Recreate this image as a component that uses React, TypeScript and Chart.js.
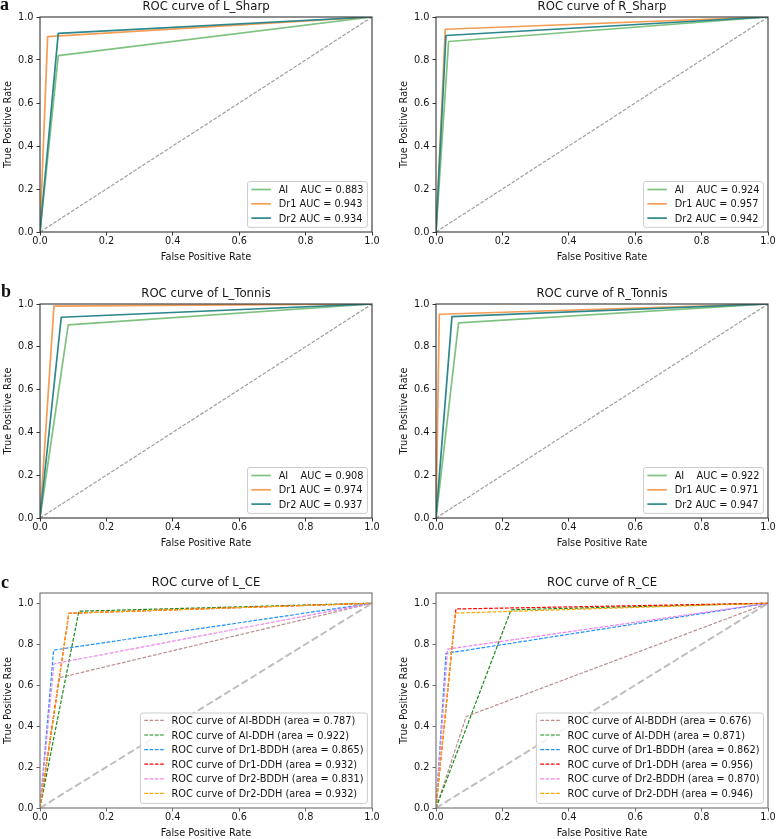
import React, { useEffect, useRef } from "react";
import { Chart, registerables } from "chart.js";

Chart.register(...registerables);

const FONT = '"DejaVu Sans", sans-serif';
const TEXT_COLOR = "#151515";

// ---- shared axis ticks ----
const AXIS_TICKS = [0, 0.2, 0.4, 0.6, 0.8, 1.0];
const DIAGONAL_X = [0, 1];
const DIAGONAL_Y = [0, 1];

// ---- panels a / b : three readers ----
const READER_NAMES = ["AI", "Dr1", "Dr2"];
const READER_COLORS = ["#7fc27f", "#f59c55", "#2e878c"];

const L_SHARP_FPR = [[0, 0.055, 1], [0, 0.023, 1], [0, 0.055, 1]];
const L_SHARP_TPR = [[0, 0.82, 1], [0, 0.909, 1], [0, 0.924, 1]];
const L_SHARP_AUC = [0.883, 0.943, 0.934];

const R_SHARP_FPR = [[0, 0.038, 1], [0, 0.028, 1], [0, 0.03, 1]];
const R_SHARP_TPR = [[0, 0.886, 1], [0, 0.943, 1], [0, 0.914, 1]];
const R_SHARP_AUC = [0.924, 0.957, 0.942];

const L_TONNIS_FPR = [[0, 0.085, 1], [0, 0.042, 1], [0, 0.064, 1]];
const L_TONNIS_TPR = [[0, 0.902, 1], [0, 0.99, 1], [0, 0.938, 1]];
const L_TONNIS_AUC = [0.908, 0.974, 0.937];

const R_TONNIS_FPR = [[0, 0.068, 1], [0, 0.01, 1], [0, 0.048, 1]];
const R_TONNIS_TPR = [[0, 0.912, 1], [0, 0.952, 1], [0, 0.941, 1]];
const R_TONNIS_AUC = [0.922, 0.971, 0.947];

// ---- panel c : six curves ----
const CE_NAMES = ["AI-BDDH", "AI-DDH", "Dr1-BDDH", "Dr1-DDH", "Dr2-BDDH", "Dr2-DDH"];
const CE_COLORS = ["#bc8f8f", "#1a8c1a", "#1e90ff", "#ff0000", "#ee82ee", "#ffa500"];

const L_CE_FPR = [[0, 0.058, 1], [0, 0.117, 1], [0, 0.041, 1], [0, 0.087, 1], [0, 0.042, 1], [0, 0.087, 1]];
const L_CE_TPR = [[0, 0.636, 1], [0, 0.961, 1], [0, 0.771, 1], [0, 0.951, 1], [0, 0.704, 1], [0, 0.951, 1]];
const L_CE_AUC = [0.787, 0.922, 0.865, 0.932, 0.831, 0.932];

const R_CE_FPR = [[0, 0.091, 1], [0, 0.226, 1], [0, 0.03, 1], [0, 0.06, 1], [0, 0.035, 1], [0, 0.058, 1]];
const R_CE_TPR = [[0, 0.447, 1], [0, 0.968, 1], [0, 0.755, 1], [0, 0.972, 1], [0, 0.776, 1], [0, 0.952, 1]];
const R_CE_AUC = [0.676, 0.871, 0.862, 0.956, 0.87, 0.946];

const readerLabels = (aucs: number[]) =>
  READER_NAMES.map((n, i) => (n === "AI" ? "AI    " : n + " ") + "AUC = " + aucs[i].toFixed(3));
const ceLabels = (aucs: number[]) =>
  CE_NAMES.map((n, i) => "ROC curve of " + n + " (area = " + aucs[i].toFixed(3) + ")");

type PanelProps = {
  title: string;
  labels: string[];
  colors: string[];
  fprs: number[][];
  tprs: number[][];
  dashed: boolean;
  ymax: number;
  plotLeft: number;
  plotTop: number;
  plotH: number;
  frameColor: string;
  legendTopPad: number;
  legendGap: number;
  legendBotPad: number;
};

const Y_AXIS_W = 40;
const TITLE_H = 17;
const X_AXIS_H = 34;
const PLOT_W = 332;
const RIGHT_PAD = 9;

function RocPanel(p: PanelProps) {
  const ref = useRef<HTMLCanvasElement | null>(null);
  const W = Y_AXIS_W + PLOT_W + RIGHT_PAD;
  const H = TITLE_H + p.plotH + X_AXIS_H;

  useEffect(() => {
    const fs = 9.75;
    const lineW = p.dashed ? 1.2 : 1.7;
    const diagDash = p.dashed ? [7.2, 3.1] : [3.7, 1.6];
    const datasets: any[] = [
      {
        data: DIAGONAL_X.map((x, i) => ({ x, y: DIAGONAL_Y[i] })),
        showLine: true,
        borderColor: p.dashed ? "#bdbdbd" : "#9e9e9e",
        borderWidth: p.dashed ? 1.9 : 1.2,
        borderDash: diagDash,
        pointRadius: 0,
        fill: false,
        order: 100,
      },
      ...p.fprs.map((fpr, k) => ({
        data: fpr.map((x, i) => ({ x, y: p.tprs[k][i] })),
        showLine: true,
        borderColor: p.colors[k],
        borderWidth: lineW,
        borderDash: p.dashed ? [3.7, 1.6] : [],
        borderJoinStyle: "round",
        pointRadius: 0,
        fill: false,
        order: 50 - k,
      })),
    ];

    const framePlugin = {
      id: "frame",
      afterDatasetsDraw(chart: any) {
        const { ctx, chartArea: a } = chart;
        ctx.save();
        ctx.strokeStyle = p.frameColor;
        ctx.lineWidth = 1.1;
        ctx.strokeRect(a.left, a.top, a.right - a.left, a.bottom - a.top);
        ctx.restore();
      },
    };

    const legendPlugin = {
      id: "rocLegend",
      afterDraw(chart: any) {
        const { ctx, chartArea: a } = chart;
        ctx.save();
        ctx.font = `${fs}px ${FONT}`;
        const maxW = Math.max(...p.labels.map((l) => ctx.measureText(l).width));
        const bp = 3.9, hl = 19.5, hp = 7.8;
        const boxW = bp + hl + hp + maxW + bp;
        const n = p.labels.length;
        const boxH = p.legendTopPad + (n - 1) * p.legendGap + p.legendBotPad;
        const right = a.right - 4.6;
        const bottom = a.bottom - 4.6;
        const left = right - boxW;
        const top = bottom - boxH;
        ctx.beginPath();
        if ((ctx as any).roundRect) (ctx as any).roundRect(left, top, boxW, boxH, 2.5);
        else ctx.rect(left, top, boxW, boxH);
        ctx.fillStyle = "rgba(255,255,255,0.8)";
        ctx.fill();
        ctx.strokeStyle = "#cccccc";
        ctx.lineWidth = 1;
        ctx.stroke();
        p.labels.forEach((lab, i) => {
          const y = top + p.legendTopPad + i * p.legendGap;
          ctx.beginPath();
          ctx.setLineDash(p.dashed ? [3.7, 1.6] : []);
          ctx.strokeStyle = p.colors[i];
          ctx.lineWidth = lineW;
          ctx.moveTo(left + bp, y);
          ctx.lineTo(left + bp + hl, y);
          ctx.stroke();
          ctx.setLineDash([]);
          ctx.fillStyle = TEXT_COLOR;
          ctx.textBaseline = "alphabetic";
          ctx.textAlign = "left";
          ctx.fillText(lab, left + bp + hl + hp, y + 3.55);
        });
        ctx.restore();
      },
    };

    const tickFont = { family: FONT, size: fs };
    const setTicks = (s: any) => {
      s.ticks = AXIS_TICKS.map((v) => ({ value: v }));
    };

    const chart = new Chart(ref.current as HTMLCanvasElement, {
      type: "scatter",
      data: { datasets },
      plugins: [framePlugin, legendPlugin],
      options: {
        responsive: false,
        maintainAspectRatio: false,
        animation: false,
        devicePixelRatio: 1,
        layout: { padding: { left: 0, top: 0, right: RIGHT_PAD, bottom: 0 } },
        plugins: {
          legend: { display: false },
          tooltip: { enabled: false },
          title: {
            display: true,
            text: p.title,
            fullSize: false,
            color: TEXT_COLOR,
            font: { family: FONT, size: 11.7, weight: "normal", lineHeight: "12px" } as any,
            padding: { top: 1, bottom: 4 },
          },
        },
        scales: {
          x: {
            type: "linear",
            min: 0,
            max: 1,
            afterBuildTicks: setTicks,
            afterFit: (s: any) => {
              s.height = X_AXIS_H;
              s.paddingLeft = 0;
              s.paddingRight = 0;
            },
            ticks: {
              callback: (v: any) => Number(v).toFixed(1),
              maxRotation: 0,
              autoSkip: false,
              padding: 0,
              color: TEXT_COLOR,
              font: tickFont,
            },
            grid: {
              display: true,
              drawOnChartArea: false,
              drawTicks: true,
              tickLength: 3.5,
              color: p.frameColor,
              lineWidth: 1,
            },
            border: { display: false },
            title: {
              display: true,
              text: "False Positive Rate",
              color: TEXT_COLOR,
              font: tickFont,
              padding: { top: 0, bottom: 3 },
            },
          },
          y: {
            type: "linear",
            min: 0,
            max: p.ymax,
            afterBuildTicks: setTicks,
            afterFit: (s: any) => {
              s.width = Y_AXIS_W;
              s.paddingTop = 0;
              s.paddingBottom = 0;
            },
            ticks: {
              callback: (v: any) => Number(v).toFixed(1),
              autoSkip: false,
              padding: 3,
              color: TEXT_COLOR,
              font: tickFont,
            },
            grid: {
              display: true,
              drawOnChartArea: false,
              drawTicks: true,
              tickLength: 3.5,
              color: p.frameColor,
              lineWidth: 1,
            },
            border: { display: false },
            title: {
              display: true,
              text: "True Positive Rate",
              color: TEXT_COLOR,
              font: tickFont,
              padding: { top: 2.5, bottom: 0 },
            },
          },
        },
      } as any,
    });
    return () => chart.destroy();
  }, []);

  return (
    <canvas
      ref={ref}
      width={W}
      height={H}
      style={{
        position: "absolute",
        left: p.plotLeft - Y_AXIS_W,
        top: p.plotTop - TITLE_H,
        width: W,
        height: H,
        display: "block",
      }}
    />
  );
}

const letterStyle = (left: number, top: number): React.CSSProperties => ({
  position: "absolute",
  left,
  top,
  fontFamily: '"Liberation Serif", "Times New Roman", serif',
  fontWeight: "bold",
  fontSize: 18,
  lineHeight: "18px",
  color: "#111",
});

export default function App() {
  const colL = 40;
  const colR = 436;
  const rowA = 17;
  const rowB = 304;
  const rowC = 593;
  const ab = { dashed: false, ymax: 1, frameColor: "#333333", legendTopPad: 8, legendGap: 14.3, legendBotPad: 9.3 };
  const cc = { dashed: true, ymax: 1.05, frameColor: "#6e6e6e", legendTopPad: 7.4, legendGap: 14.6, legendBotPad: 10 };
  return (
    <div
      style={{
        position: "absolute",
        left: 0,
        top: 0,
        width: 777,
        height: 839,
        overflow: "hidden",
        background: "#ffffff",
      }}
    >
      <RocPanel title="ROC curve of L_Sharp" labels={readerLabels(L_SHARP_AUC)} colors={READER_COLORS}
        fprs={L_SHARP_FPR} tprs={L_SHARP_TPR} plotLeft={colL} plotTop={rowA} plotH={215} {...ab} />
      <RocPanel title="ROC curve of R_Sharp" labels={readerLabels(R_SHARP_AUC)} colors={READER_COLORS}
        fprs={R_SHARP_FPR} tprs={R_SHARP_TPR} plotLeft={colR} plotTop={rowA} plotH={215} {...ab} />
      <RocPanel title="ROC curve of L_Tonnis" labels={readerLabels(L_TONNIS_AUC)} colors={READER_COLORS}
        fprs={L_TONNIS_FPR} tprs={L_TONNIS_TPR} plotLeft={colL} plotTop={rowB} plotH={214} {...ab} />
      <RocPanel title="ROC curve of R_Tonnis" labels={readerLabels(R_TONNIS_AUC)} colors={READER_COLORS}
        fprs={R_TONNIS_FPR} tprs={R_TONNIS_TPR} plotLeft={colR} plotTop={rowB} plotH={214} {...ab} />
      <RocPanel title="ROC curve of L_CE" labels={ceLabels(L_CE_AUC)} colors={CE_COLORS}
        fprs={L_CE_FPR} tprs={L_CE_TPR} plotLeft={colL} plotTop={rowC} plotH={215} {...cc} />
      <RocPanel title="ROC curve of R_CE" labels={ceLabels(R_CE_AUC)} colors={CE_COLORS}
        fprs={R_CE_FPR} tprs={R_CE_TPR} plotLeft={colR} plotTop={rowC} plotH={215} {...cc} />
      <div style={letterStyle(0, -5)}>a</div>
      <div style={letterStyle(1, 281.6)}>b</div>
      <div style={letterStyle(1, 573.2)}>c</div>
    </div>
  );
}
